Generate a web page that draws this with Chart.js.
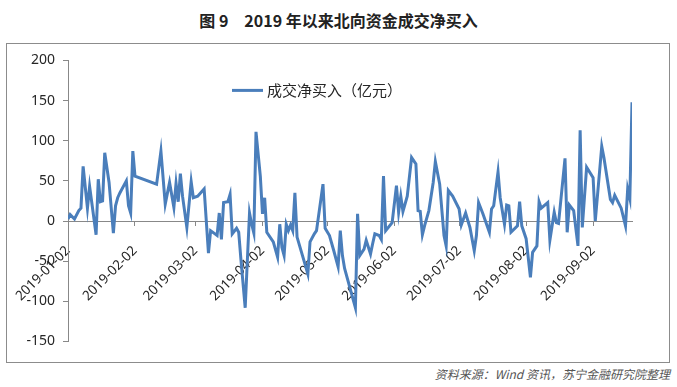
<!DOCTYPE html>
<html lang="zh-CN">
<head>
    <meta charset="UTF-8">
    <title>2019 年以来北向资金成交净买入</title>
    <script src="https://cdn.jsdelivr.net/npm/chart.js@4"></script>
    <style>
        body { margin: 0; background: #fff; width: 677px; height: 387px; position: relative; overflow: hidden; font-family: "Noto Sans CJK SC", sans-serif; }
        .title { position: absolute; left: 0; top: 8px; width: 677px; text-align: center; font-size: 16px; font-weight: bold; color: #222; line-height: 24px; }
        .frame { position: absolute; left: 6px; top: 43px; width: 662px; height: 318px; border: 1px solid #8c8c8c; }
        .frame canvas { position: absolute; left: 0; top: 0; }
        .source { position: absolute; right: 7px; top: 366px; font-size: 12px; font-style: italic; color: #555; line-height: 16px; }
    </style>
</head>
<body>

<div class="title">图 9　2019 年以来北向资金成交净买入</div>
<div class="frame">
    <canvas id="lineChart" width="662" height="318"></canvas>
</div>
<div class="source">资料来源：Wind 资讯，苏宁金融研究院整理</div>

<script>
    const seriesName = '成交净买入（亿元）';

    const dates = [
        '2019-01-02', '2019-01-03', '2019-01-05', '2019-01-07', '2019-01-08', '2019-01-09', '2019-01-11', '2019-01-12',
        '2019-01-13', '2019-01-15', '2019-01-16', '2019-01-17', '2019-01-18', '2019-01-19', '2019-01-21', '2019-01-23',
        '2019-01-24', '2019-01-25', '2019-01-26', '2019-01-29', '2019-01-30', '2019-01-31', '2019-02-01', '2019-02-02',
        '2019-02-12', '2019-02-14', '2019-02-16', '2019-02-18', '2019-02-20', '2019-02-21', '2019-02-22', '2019-02-23',
        '2019-02-24', '2019-02-26', '2019-02-28', '2019-03-01', '2019-03-03', '2019-03-06', '2019-03-08', '2019-03-09',
        '2019-03-12', '2019-03-13', '2019-03-14', '2019-03-15', '2019-03-17', '2019-03-18', '2019-03-19', '2019-03-21',
        '2019-03-22', '2019-03-23', '2019-03-25', '2019-03-27', '2019-03-28', '2019-03-29', '2019-03-30',
        '2019-04-01', '2019-04-02', '2019-04-03', '2019-04-04', '2019-04-07', '2019-04-09', '2019-04-10', '2019-04-11',
        '2019-04-12', '2019-04-13', '2019-04-14', '2019-04-15', '2019-04-16', '2019-04-17', '2019-04-18', '2019-04-23',
        '2019-04-24', '2019-04-26', '2019-04-27', '2019-04-30',
        '2019-05-01', '2019-05-03', '2019-05-05', '2019-05-07', '2019-05-08', '2019-05-09', '2019-05-10', '2019-05-15',
        '2019-05-16', '2019-05-17', '2019-05-19', '2019-05-20', '2019-05-22', '2019-05-23', '2019-05-24', '2019-05-26',
        '2019-05-27', '2019-05-28', '2019-05-29',
        '2019-06-01', '2019-06-03', '2019-06-04', '2019-06-05', '2019-06-06', '2019-06-08', '2019-06-10', '2019-06-12',
        '2019-06-13', '2019-06-14', '2019-06-15', '2019-06-16', '2019-06-18', '2019-06-20', '2019-06-21', '2019-06-23',
        '2019-06-25', '2019-06-26', '2019-06-27', '2019-06-29',
        '2019-07-02', '2019-07-03', '2019-07-05', '2019-07-07', '2019-07-09', '2019-07-10', '2019-07-11', '2019-07-13',
        '2019-07-16', '2019-07-17', '2019-07-18', '2019-07-20', '2019-07-21', '2019-07-23', '2019-07-24', '2019-07-25',
        '2019-07-26', '2019-07-29', '2019-07-30', '2019-07-31',
        '2019-08-02', '2019-08-04', '2019-08-05', '2019-08-07', '2019-08-08', '2019-08-09', '2019-08-12', '2019-08-13',
        '2019-08-15', '2019-08-16', '2019-08-17', '2019-08-20', '2019-08-21', '2019-08-22', '2019-08-24', '2019-08-26',
        '2019-08-27', '2019-08-28', '2019-08-30',
        '2019-09-02', '2019-09-03', '2019-09-06', '2019-09-07', '2019-09-10', '2019-09-11', '2019-09-12', '2019-09-15',
        '2019-09-17', '2019-09-18', '2019-09-19', '2019-09-20'
    ];

    // 成交净买入（亿元）
    const netBuy = [
        2.5, 8, 2.5, 13, 16, 68, 16, 43,
        23, -17, 52, 24, 25, 85, 48, -15,
        19, 29, 35, 50, 19, 10, 87, 56,
        46, 87, 21, 48, 17, 47, 24, 59,
        31, -8, 49, 29, 31, 40, -40, -12,
        -18, 10, -23, 23, 24, 33, -16, -9,
        -14, -47, -108, 10, -4, -15, 111,
        56, 9, 29, -14, -26, -45, -4, -33,
        -43, -4, -12, -5, -12, 35, -20, -66,
        -26, -16, -12, 46,
        -9, -18, -37, -57, -12, -43, -59, -108,
        9, -43, -35, -24, -41, -28, -16, -18,
        -23, 56, -12,
        -2, 44, 11, 31, 12, 31, 79, 71,
        13, 12, -17, -6, 13, 48, 74, 46,
        -18, -31, 38, 31,
        15, -5, 10, -8, -37, -18, 23, 9,
        -14, 15, 19, 61, 29, -4, 20, 19,
        -14, -6, 24, -6,
        -22, -70, -39, -31, 24, 16, 23, -24,
        11, -2, -3, 78, -14, 20, 13, -31,
        113, -8, 67,
        54, 0, 93, 79, 27, 23, 32, 16,
        -6, 40, 28, 148
    ];

    const tickLabels = ['2019-01-02', '2019-02-02', '2019-03-02', '2019-04-02', '2019-05-02',
        '2019-06-02', '2019-07-02', '2019-08-02', '2019-09-02'];

    const yMin = -150;
    const yMax = 200;
    const yStep = 50;

    // days since 2019-01-02, used as the x value
    function toDay(s) {
        const [y, m, d] = s.split('-').map(Number);
        return (Date.UTC(y, m - 1, d) - Date.UTC(2019, 0, 2)) / 864e5;
    }

    const points = dates.map((d, i) => ({ x: toDay(d), y: netBuy[i] }));
    const tickDays = tickLabels.map(toDay);

    // legend sits inside the plot area
    const insideLegend = {
        id: 'insideLegend',
        afterDraw(chart) {
            const { ctx, chartArea } = chart;
            const ds = chart.data.datasets[0];
            const x = chartArea.left + 164;
            const y = chartArea.top + 30;
            ctx.save();
            ctx.strokeStyle = ds.borderColor;
            ctx.lineWidth = 3;
            ctx.beginPath();
            ctx.moveTo(x, y);
            ctx.lineTo(x + 31, y);
            ctx.stroke();
            ctx.fillStyle = '#262626';
            ctx.font = '15px "Noto Sans CJK SC"';
            ctx.textBaseline = 'middle';
            ctx.fillText(ds.label, x + 35, y);
            ctx.restore();
        }
    };

    const ctx = document.getElementById('lineChart').getContext('2d');
    new Chart(ctx, {
        type: 'line',
        data: {
            datasets: [{
                label: seriesName,
                data: points,
                borderColor: '#4a7ebb',
                borderWidth: 3,
                pointRadius: 0,
                tension: 0,
                fill: false
            }]
        },
        options: {
            responsive: false,
            animation: false,
            devicePixelRatio: 1,
            layout: { padding: { top: 14, right: 37, bottom: 20.5, left: 0 } },
            plugins: {
                legend: { display: false },
                tooltip: { enabled: false }
            },
            scales: {
                x: {
                    type: 'linear',
                    position: { y: 0 },
                    min: 0,
                    max: toDay(dates[dates.length - 1]),
                    afterBuildTicks: s => { s.ticks = tickDays.map(v => ({ value: v })); },
                    // rotated labels may hang past the plot, keep the plot box fixed
                    afterFit: s => { s.paddingLeft = 0; s.paddingRight = 0; },
                    ticks: {
                        autoSkip: false,
                        minRotation: 45,
                        maxRotation: 45,
                        padding: 16,
                        color: '#262626',
                        font: { family: '"Noto Sans", sans-serif', size: 13.5, lineHeight: 1.6 },
                        callback: v => tickLabels[tickDays.indexOf(v)] ?? ''
                    },
                    grid: { drawOnChartArea: false, drawTicks: true, tickLength: 4, color: '#888' },
                    border: { color: '#888', width: 1 }
                },
                y: {
                    min: yMin,
                    max: yMax,
                    afterFit: s => { s.width = 61; },
                    ticks: { stepSize: yStep, padding: 8, color: '#262626', font: { family: '"Noto Sans", sans-serif', size: 14 } },
                    grid: { drawOnChartArea: false, drawTicks: true, tickLength: 5, color: '#888' },
                    border: { color: '#888', width: 1 }
                }
            }
        },
        plugins: [insideLegend]
    });
</script>

</body>
</html>
